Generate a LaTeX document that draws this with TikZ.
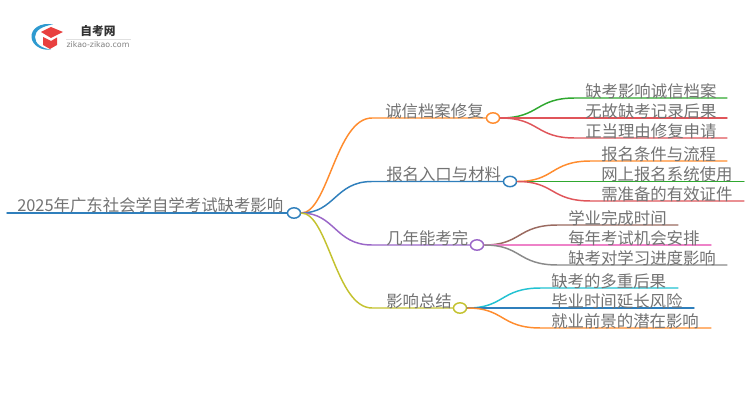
\documentclass[tikz,border=0pt]{standalone}
\usepackage{fontspec}
\setmainfont{Noto Sans CJK SC}
\newfontfamily\latinfont{DejaVu Sans}
\usetikzlibrary{shapes.geometric}
\definecolor{cOrange}{HTML}{FF8C2E}
\definecolor{cBlue}{HTML}{2F7FBC}
\definecolor{cPurple}{HTML}{9A66C8}
\definecolor{cOlive}{HTML}{C4C22F}
\definecolor{cGreen}{HTML}{2FA82F}
\definecolor{cRed}{HTML}{E0555A}
\definecolor{cBrown}{HTML}{9A6A60}
\definecolor{cPink}{HTML}{EE82C8}
\definecolor{cGrey}{HTML}{8A8A8A}
\definecolor{cCyan}{HTML}{22C2D2}
\definecolor{cLogo}{HTML}{2E9AD0}
\definecolor{cCap}{HTML}{E8403F}
\tikzset{
  x=0.75pt,y=-0.75pt,
  txt/.style={anchor=west,inner sep=0pt,text=black!55,font=\fontsize{12.3pt}{14pt}\selectfont},
  hub/.style={draw=#1,fill=white,ellipse,line width=1.1pt,minimum width=9.8pt,minimum height=7.8pt,inner sep=0pt},
  wire/.style={draw=#1,line width=1.1pt,line cap=round},
}
\begin{document}
\begin{tikzpicture}
\useasboundingbox (0,0) rectangle (750,410);
\fill[white] (0,0) rectangle (750,410);

% logo
\fill[cLogo] (53,24.5) .. controls (40,22) and (31,29) .. (31.5,37) .. controls (32,45) and (41,51) .. (51,49.5)
  .. controls (42,48.5) and (35,44) .. (35,37) .. controls (35,30) and (43,26) .. (53,24.5) -- cycle;
\fill[cCap] (51,27) -- (63,32) -- (51,38) -- (41,32) -- cycle;
\fill[cCap] (43,37) -- (51,41) -- (57,37.5) -- (57,45) -- (50,49) -- (43,45) -- cycle;
\node[inner sep=0pt,text=black!80,font=\fontsize{8.8pt}{10pt}\selectfont\bfseries] (logot) at (98,31) {自考网};
\coordinate (ll) at (66,39); \coordinate (lr) at (131,39);
\draw[black!12,line width=0.6pt] (ll) -- (lr);
\node[inner sep=0pt,text=black!50,font=\latinfont\fontsize{5.9pt}{7pt}\selectfont] (logos) at (98,45) {zikao-zikao.com};

% hubs
\node[hub=cBlue] (root) at (294,213) {};
\node[hub=cOrange] (b1) at (493,118) {};
\node[hub=cBlue] (b2) at (510,181.5) {};
\node[hub=cPurple] (b3) at (477,245) {};
\node[hub=cOlive] (b4) at (460,308) {};
\coordinate (r0) at (7,213);

\coordinate (b1s) at (372,118);
\coordinate (b2s) at (372,181.5);
\coordinate (b3s) at (372,245);
\coordinate (b4s) at (372,308);

\draw[wire=cBlue] (r0) -- (root.west);
\draw[wire=cOrange] (root.east) .. controls (328,213) and (336,118) .. (b1s) -- (b1.west);
\draw[wire=cBlue] (root.east) .. controls (335,213) and (335,181.5) .. (b2s) -- (b2.west);
\draw[wire=cPurple] (root.east) .. controls (335,213) and (335,245) .. (b3s) -- (b3.west);
\draw[wire=cOlive] (root.east) .. controls (328,213) and (336,308) .. (b4s) -- (b4.west);

% child ends
\foreach \n/\xs/\xe/\y in {
 a1/575/727/98, a2/575/727/118, a3/575/727/138,
 c1/591/727/161, c2/591/744/181.5, c3/591/744/201,
 d1/558/678/225, d2/558/711/245, d3/558/727/265,
 e1/541/678/288, e2/541/694/308, e3/541/711/328}{
  \coordinate (\n s) at (\xs,\y);
  \coordinate (\n e) at (\xe,\y);
}
\draw[wire=cGreen] (b1.east) .. controls (540,118) and (535,98) .. (a1s) -- (a1e);
\draw[wire=cRed] (b1.east) -- (a2s) -- (a2e);
\draw[wire=cRed] (b1.east) .. controls (540,118) and (535,138) .. (a3s) -- (a3e);
\draw[wire=cOrange] (b2.east) .. controls (555,181.5) and (550,161) .. (c1s) -- (c1e);
\draw[wire=cGreen] (b2.east) -- (c2s) -- (c2e);
\draw[wire=cRed] (b2.east) .. controls (555,181.5) and (550,201) .. (c3s) -- (c3e);
\draw[wire=cBrown] (b3.east) .. controls (522,245) and (517,225) .. (d1s) -- (d1e);
\draw[wire=cPink] (b3.east) -- (d2s) -- (d2e);
\draw[wire=cGrey] (b3.east) .. controls (522,245) and (517,265) .. (d3s) -- (d3e);
\draw[wire=cCyan] (b4.east) .. controls (505,308) and (500,288) .. (e1s) -- (e1e);
\draw[wire=cBlue] (b4.east) -- (e2s) -- (e2e);
\draw[wire=cOrange] (b4.east) .. controls (505,308) and (500,328) .. (e3s) -- (e3e);

% labels
\node[txt] (t0) at (17,205) {2025年广东社会学自学考试缺考影响};
\node[txt] (t1) at (385,111) {诚信档案修复};
\node[txt] (t2) at (386,174.5) {报名入口与材料};
\node[txt] (t3) at (386,238) {几年能考完};
\node[txt] (t4) at (386,301) {影响总结};
\node[txt] (ta1) at (585,91) {缺考影响诚信档案};
\node[txt] (ta2) at (585,111) {无故缺考记录后果};
\node[txt] (ta3) at (585,131) {正当理由修复申请};
\node[txt] (tc1) at (601,154) {报名条件与流程};
\node[txt] (tc2) at (601,174) {网上报名系统使用};
\node[txt] (tc3) at (601,194) {需准备的有效证件};
\node[txt] (td1) at (568,218) {学业完成时间};
\node[txt] (td2) at (568,238) {每年考试机会安排};
\node[txt] (td3) at (568,258) {缺考对学习进度影响};
\node[txt] (te1) at (551,281) {缺考的多重后果};
\node[txt] (te2) at (551,301) {毕业时间延长风险};
\node[txt] (te3) at (551,321) {就业前景的潜在影响};
\end{tikzpicture}
\end{document}
